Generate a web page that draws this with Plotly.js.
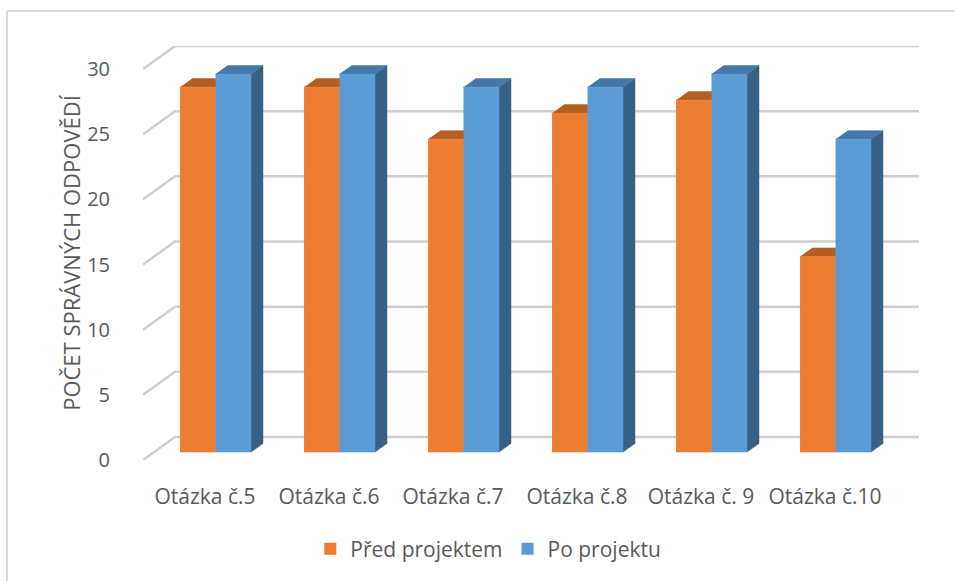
<!DOCTYPE html>
<html>
<head>
<meta charset="utf-8">
<script src="https://cdn.plot.ly/plotly-3.0.1.min.js"></script>
<style>
  html, body { margin: 0; padding: 0; background: #fff; }
  #chart { width: 955px; height: 581px; }
</style>
</head>
<body>
<div id="chart"></div>
<script>
// ---- data ----
const categories = ['Otázka č.5', 'Otázka č.6', 'Otázka č.7', 'Otázka č.8', 'Otázka č. 9', 'Otázka č.10'];
const seriesNames = ['Před projektem', 'Po projektu'];
const beforeValues = [28, 28, 24, 26, 27, 15];
const afterValues = [29, 29, 28, 28, 29, 24];
const yTicks = [0, 5, 10, 15, 20, 25, 30];

// ---- 3D projection settings (style, not data) ----
const depthX = 0.258;   // category units of full depth
const depthY = 1.765;   // value units of full depth
const barDepthStart = 0.344, barDepthEnd = 0.72;
const groupStart = 0.21, barWidth = 0.286;
const yMax = 30;

const colors = {
  before: {front: '#ED7D31', top: '#B55E22', side: '#A4521C'},
  after:  {front: '#5B9BD5', top: '#4577A9', side: '#376087'}
};

function faces(values, seriesIndex) {
  const ox1 = barDepthStart * depthX, oy1 = barDepthStart * depthY;
  const ox2 = barDepthEnd * depthX, oy2 = barDepthEnd * depthY;
  const f = {front: {x: [], y: []}, top: {x: [], y: []}, side: {x: [], y: []}};
  values.forEach((v, i) => {
    const x0 = i + groupStart + seriesIndex * barWidth;
    const x1 = x0 + barWidth;
    f.side.x.push(x1 + ox1, x1 + ox2, x1 + ox2, x1 + ox1, null);
    f.side.y.push(oy1, oy2, v + oy2, v + oy1, null);
    f.top.x.push(x0 + ox1, x1 + ox1, x1 + ox2, x0 + ox2, null);
    f.top.y.push(v + oy1, v + oy1, v + oy2, v + oy2, null);
    f.front.x.push(x0 + ox1, x1 + ox1, x1 + ox1, x0 + ox1, null);
    f.front.y.push(oy1, oy1, v + oy1, v + oy1, null);
  });
  return f;
}

function polyTrace(pts, color) {
  return {
    type: 'scatter', mode: 'lines', x: pts.x, y: pts.y,
    fill: 'toself', fillcolor: color,
    line: {color: color, width: 0.5},
    hoverinfo: 'skip', showlegend: false
  };
}

// gridlines with side-wall diagonal
const gx = [], gy = [];
yTicks.forEach(t => {
  gx.push(0, depthX, categories.length + depthX, null);
  gy.push(t, t + depthY, t + depthY, null);
});

const traces = [{
  type: 'scatter', mode: 'lines', x: gx, y: gy,
  line: {color: '#cfcfcf', width: 2.5},
  hoverinfo: 'skip', showlegend: false
}];

const fb = faces(beforeValues, 0);
const fa = faces(afterValues, 1);
traces.push(polyTrace(fb.side, colors.before.side), polyTrace(fb.top, colors.before.top), polyTrace(fb.front, colors.before.front));
traces.push(polyTrace(fa.side, colors.after.side), polyTrace(fa.top, colors.after.top), polyTrace(fa.front, colors.after.front));

// legend entries
traces.push({type: 'scatter', mode: 'markers', x: [null], y: [null], name: seriesNames[0],
  marker: {symbol: 'square', size: 12, color: colors.before.front}});
traces.push({type: 'scatter', mode: 'markers', x: [null], y: [null], name: seriesNames[1],
  marker: {symbol: 'square', size: 12, color: colors.after.front}});

const font = {family: '"Open Sans", "Noto Sans", sans-serif', color: '#595959'};

const layout = {
  width: 955, height: 581,
  margin: {l: 143, r: 36, t: 46, b: 121},
  paper_bgcolor: '#fff', plot_bgcolor: 'rgba(0,0,0,0)',
  font: Object.assign({size: 20}, font),
  xaxis: {
    range: [0, categories.length + depthX],
    tickvals: categories.map((c, i) => i + 0.5),
    ticktext: categories,
    ticks: 'outside', ticklen: 18, tickcolor: 'rgba(0,0,0,0)',
    showgrid: false, zeroline: false, showline: false, fixedrange: true,
    tickfont: Object.assign({size: 21}, font)
  },
  yaxis: {
    range: [0, yMax + depthY],
    tickvals: yTicks,
    ticks: 'outside', ticklen: 28, tickcolor: 'rgba(0,0,0,0)',
    showgrid: false, zeroline: false, showline: false, fixedrange: true,
    tickfont: Object.assign({size: 20}, font),
    title: {text: 'POČET SPRÁVNÝCH ODPOVĚDÍ', font: Object.assign({size: 22}, font), standoff: 0}
  },
  showlegend: true,
  legend: {
    orientation: 'h', x: 0.445, xanchor: 'center', y: -0.215, yanchor: 'middle',
    font: Object.assign({size: 21}, font), itemsizing: 'constant'
  },
  shapes: [
    {type: 'line', xref: 'paper', yref: 'paper', x0: -0.1753, x1: 1.05, y0: 1.0845, y1: 1.0845,
     line: {color: '#d9d9d9', width: 2}},
    {type: 'line', xref: 'paper', yref: 'paper', x0: -0.1753, x1: -0.1753, y0: 1.0845, y1: -0.3,
     line: {color: '#d9d9d9', width: 2}}
  ]
};

Plotly.newPlot('chart', traces, layout, {displayModeBar: false, staticPlot: true});
</script>
</body>
</html>
